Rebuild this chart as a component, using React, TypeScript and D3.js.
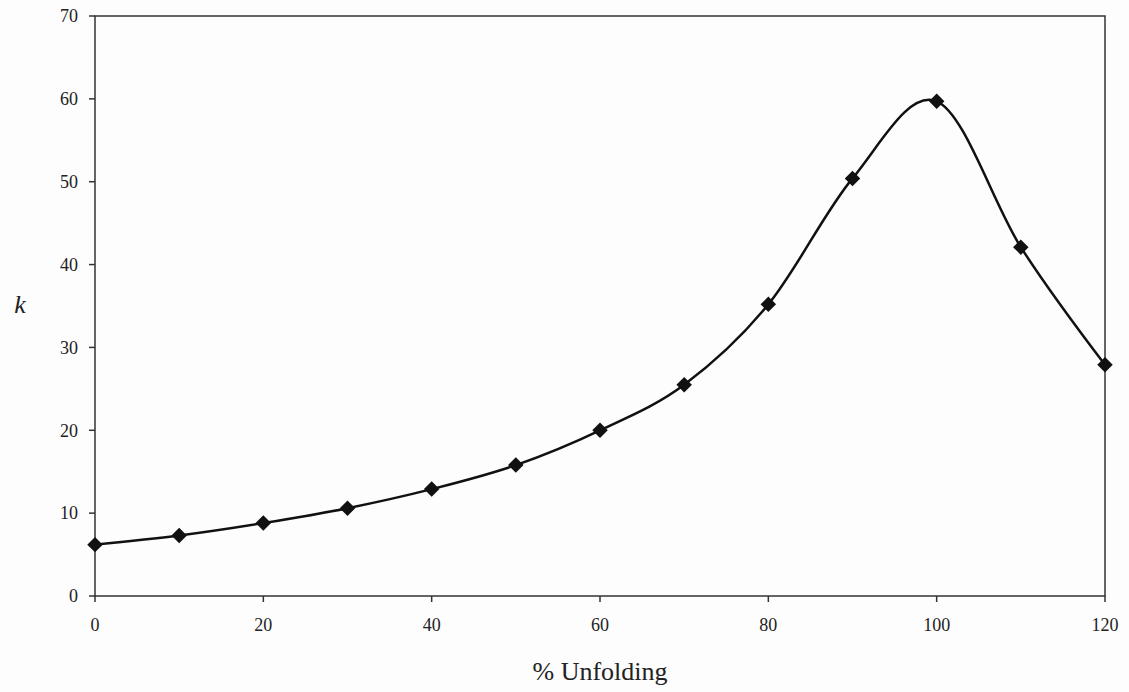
import React from "react";
import * as d3 from "d3";

const unfolding = [0, 10, 20, 30, 40, 50, 60, 70, 80, 90, 100, 110, 120];
const kValues = [6.2, 7.3, 8.8, 10.6, 12.9, 15.8, 20.0, 25.5, 35.2, 50.4, 59.7, 42.1, 27.9];
const xTicks = [0, 20, 40, 60, 80, 100, 120];
const yTicks = [0, 10, 20, 30, 40, 50, 60, 70];

export default function App() {
  const W = 1129, H = 692;
  const x = d3.scaleLinear().domain([0, 120]).range([95, 1105]);
  const y = d3.scaleLinear().domain([0, 70]).range([596, 16]);
  const pts: [number, number][] = unfolding.map((u, i) => [x(u), y(kValues[i])]);
  const line = d3.line().curve(d3.curveCardinal.tension(0))(pts) || "";
  const diamond = d3.symbol().type(d3.symbolSquare).size(120)() || "";
  const font = "'Liberation Serif', 'Times New Roman', serif";
  return (
    <svg width={W} height={H} style={{ position: "absolute", left: 0, top: 0, background: "#fff" }}>
      <rect x={0} y={0} width={W} height={H} fill="#fdfdfd" />
      <rect x={x(0)} y={y(70)} width={x(120) - x(0)} height={y(0) - y(70)} fill="none" stroke="#333" strokeWidth={1.5} />
      {yTicks.map((t) => (
        <g key={"y" + t}>
          <line x1={x(0) - 6} x2={x(0)} y1={y(t)} y2={y(t)} stroke="#333" strokeWidth={1.5} />
          <text x={x(0) - 17} y={y(t)} dy="0.35em" textAnchor="end" fontFamily={font} fontSize={18} fill="#222">{t}</text>
        </g>
      ))}
      {xTicks.map((t) => (
        <g key={"x" + t}>
          <line x1={x(t)} x2={x(t)} y1={y(0)} y2={y(0) + 6} stroke="#333" strokeWidth={1.5} />
          <text x={x(t)} y={y(0) + 35} textAnchor="middle" fontFamily={font} fontSize={18} fill="#222">{t}</text>
        </g>
      ))}
      <path d={line} fill="none" stroke="#111" strokeWidth={2.5} />
      {pts.map((p, i) => (
        <path key={i} d={diamond} transform={`translate(${p[0]},${p[1]}) rotate(45)`} fill="#111" />
      ))}
      <text x={600} y={680} textAnchor="middle" fontFamily={font} fontSize={26} fill="#222">% Unfolding</text>
      <text x={20} y={313} textAnchor="middle" fontFamily={font} fontSize={26} fontStyle="italic" fill="#222">k</text>
    </svg>
  );
}
